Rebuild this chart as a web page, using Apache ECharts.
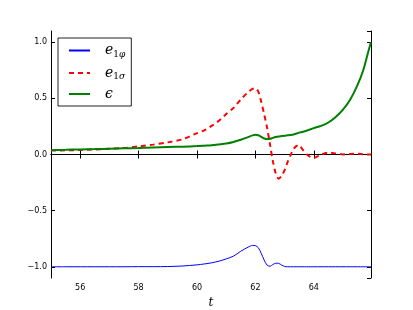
<!DOCTYPE html>
<html><head><meta charset="utf-8">
<script src="https://cdn.jsdelivr.net/npm/echarts@6/dist/echarts.min.js"></script>
<style>html,body{margin:0;padding:0;background:#fff}#c{width:413px;height:310px}</style>
</head><body><div id="c"></div>
<script>
const t = [55, 55.5, 56, 56.5, 57, 57.5, 58, 58.5, 59, 59.5, 60, 60.25, 60.5, 60.75, 61, 61.25, 61.5, 61.75, 61.9, 62.0, 62.1, 62.2, 62.3, 62.4, 62.5, 62.6, 62.7, 62.8, 62.9, 63.0, 63.1, 63.2, 63.3, 63.4, 63.5, 63.6, 63.75, 63.9, 64.0, 64.25, 64.5, 64.75, 65.0, 65.25, 65.5, 65.7, 65.85, 65.96];
const e1phi = [-1.0, -1.0, -1.0, -1.0, -1.0, -1.0, -0.999, -0.999, -0.998, -0.993, -0.983, -0.975, -0.965, -0.95, -0.93, -0.905, -0.862, -0.825, -0.81, -0.812, -0.83, -0.88, -0.94, -0.985, -0.995, -0.98, -0.968, -0.97, -0.985, -0.997, -1.0, -1.0, -1.0, -1.0, -1.0, -1.0, -1.0, -1.0, -1.0, -1.0, -1.0, -1.0, -1.0, -1.0, -1.0, -1.0, -1.0, -1.0];
const e1sigma = [0.035, 0.037, 0.04, 0.045, 0.051, 0.058, 0.072, 0.088, 0.108, 0.135, 0.19, 0.215, 0.255, 0.3, 0.36, 0.415, 0.49, 0.555, 0.585, 0.59, 0.56, 0.47, 0.36, 0.24, 0.09, -0.06, -0.17, -0.215, -0.19, -0.14, -0.07, -0.01, 0.045, 0.075, 0.084, 0.05, 0.005, -0.025, -0.03, 0.0, 0.017, 0.01, 0.001, 0.004, 0.007, 0.002, 0.0, 0.0];
const eps = [0.04, 0.042, 0.045, 0.048, 0.052, 0.055, 0.058, 0.062, 0.066, 0.07, 0.075, 0.079, 0.083, 0.09, 0.098, 0.112, 0.132, 0.155, 0.17, 0.176, 0.172, 0.158, 0.143, 0.138, 0.14, 0.148, 0.155, 0.16, 0.164, 0.168, 0.171, 0.174, 0.178, 0.186, 0.195, 0.2, 0.212, 0.226, 0.235, 0.255, 0.285, 0.335, 0.4, 0.49, 0.62, 0.755, 0.9, 1.0];
const xTicks = [56, 58, 60, 62, 64];
const yTicks = [-1.0, -0.5, 0.0, 0.5, 1.0];
const seriesNames = ['e1phi', 'e1sigma', 'eps'];

const pairs = arr => t.map((x, i) => [x, arr[i]]);
const near = (v, list) => list.some(k => Math.abs(k - v) < 1e-6);
const chart = echarts.init(document.getElementById('c'), null, {renderer: 'canvas'});
const lblFont = {fontFamily: 'DejaVu Sans', fontSize: 8, color: '#000'};
const baseX = {type: 'value', min: 55, max: 65.96, splitNumber: 5, splitLine: {show: false},
  axisLine: {lineStyle: {color: '#000', width: 1}}, axisTick: {inside: true, length: 4, lineStyle: {color: '#000'}}};
const baseY = {type: 'value', min: -1.1, max: 1.1, splitNumber: 5, splitLine: {show: false},
  axisLine: {lineStyle: {color: '#000', width: 1}}, axisTick: {inside: true, length: 4, lineStyle: {color: '#000'}}};
const rich = {
  e: {fontFamily: 'DejaVu Serif', fontStyle: 'italic', fontSize: 14, color: '#000', padding: [0, 0, 0, 10], lineHeight: 18},
  n: {fontFamily: 'DejaVu Serif', fontSize: 9, color: '#000', padding: [8, 0, 0, 0], lineHeight: 18},
  p: {fontFamily: 'DejaVu Serif', fontStyle: 'italic', fontSize: 9, color: '#000', padding: [8, 0, 0, 0], lineHeight: 18}
};
const labels = {e1phi: '{e|e}{n|1}{p|φ}', e1sigma: '{e|e}{n|1}{p|σ}', eps: '{e|ϵ}'};
chart.setOption({
  animation: false,
  backgroundColor: '#fff',
  grid: {left: 51, right: 42, top: 31, bottom: 32, containLabel: false, outerBoundsMode: 'none'},
  legend: {
    orient: 'vertical', left: 58, top: 38, padding: [4, 6, 5, 10], itemGap: 5.5,
    itemWidth: 21, itemHeight: 10, borderColor: '#222', borderWidth: 1, backgroundColor: '#fff',
    itemStyle: {opacity: 0},
    data: seriesNames,
    formatter: n => labels[n],
    textStyle: {rich: rich}
  },
  xAxis: [
    Object.assign({}, baseX, {position: 'bottom', name: 't', nameLocation: 'middle', nameGap: 18,
      nameTextStyle: {fontFamily: 'DejaVu Serif', fontStyle: 'italic', fontSize: 12, color: '#000'},
      axisLabel: Object.assign({margin: 6, showMinLabel: false, showMaxLabel: false,
        formatter: v => near(v, xTicks) ? String(Math.round(v)) : ''}, lblFont)}),
    Object.assign({}, baseX, {position: 'top', axisLabel: {show: false}})
  ],
  yAxis: [
    Object.assign({}, baseY, {position: 'left',
      axisLabel: Object.assign({margin: 4, showMinLabel: false, showMaxLabel: false,
        formatter: v => near(v, yTicks) ? v.toFixed(1).replace('-', '\u2212') : ''}, lblFont)}),
    Object.assign({}, baseY, {position: 'right', axisLabel: {show: false}})
  ],
  series: [
    {name: 'e1phi', type: 'line', data: pairs(e1phi), showSymbol: false, symbol: 'none', smooth: 0.3,
      lineStyle: {color: '#0000ff', width: 1}, itemStyle: {color: '#0000ff'}},
    {name: 'e1sigma', type: 'line', data: pairs(e1sigma), showSymbol: false, symbol: 'none', smooth: 0.3,
      lineStyle: {color: '#ff0000', width: 2, type: [5, 4]}, itemStyle: {color: '#ff0000'}},
    {name: 'eps', type: 'line', data: pairs(eps), showSymbol: false, symbol: 'none', smooth: 0.3,
      lineStyle: {color: '#008000', width: 2}, itemStyle: {color: '#008000'}}
  ]
});
</script></body></html>
